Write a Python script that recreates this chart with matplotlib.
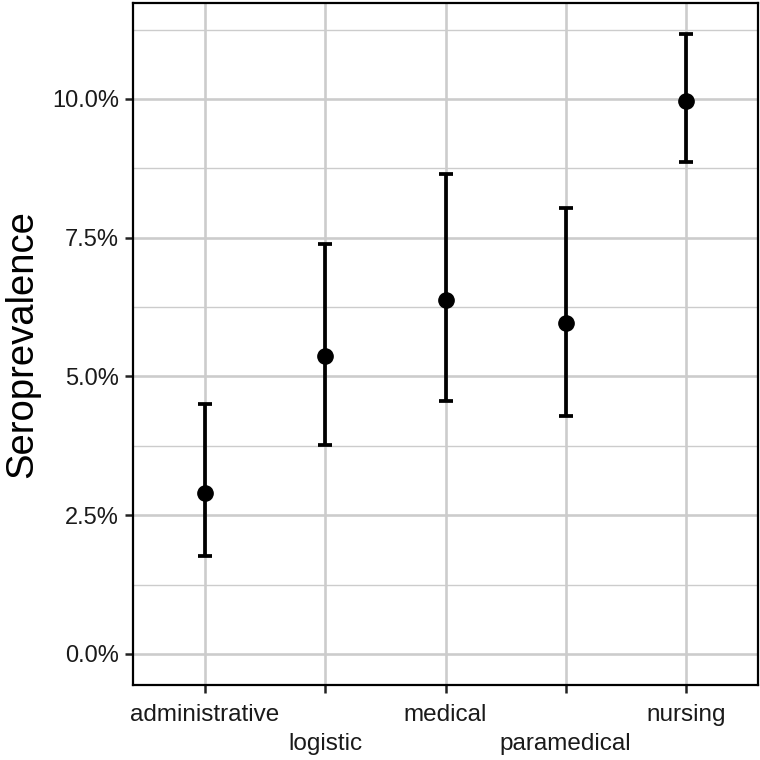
import matplotlib
matplotlib.use("Agg")
import matplotlib.pyplot as plt
from matplotlib.ticker import FixedLocator, FuncFormatter

plt.rcParams['font.family'] = ['Liberation Sans', 'DejaVu Sans']

categories = ["administrative", "logistic", "medical", "paramedical", "nursing"]
estimate = [2.90, 5.37, 6.38, 5.96, 9.97]
lower = [1.77, 3.77, 4.56, 4.29, 8.87]
upper = [4.50, 7.39, 8.65, 8.03, 11.17]
y_major = [0.0, 2.5, 5.0, 7.5, 10.0]
y_minor = [1.25, 3.75, 6.25, 8.75, 11.25]

fig = plt.figure(figsize=(7.6, 7.6), dpi=100)
ax = fig.add_axes([0.175, 0.0987, 0.8224, 0.8973])

x = list(range(1, len(categories) + 1))
err_lo = [e - l for e, l in zip(estimate, lower)]
err_hi = [u - e for e, u in zip(estimate, upper)]
ax.errorbar(x, estimate, yerr=[err_lo, err_hi], fmt='o', color='black',
            markersize=11, elinewidth=2.7, capsize=5, capthick=2.7, zorder=3)

lo_all = min(0.0, min(lower))
hi_all = max(upper)
pad = 0.05 * (hi_all - lo_all)
ax.set_ylim(lo_all - pad, hi_all + pad)
ax.set_xlim(0.4, 5.6)

ax.yaxis.set_major_locator(FixedLocator(y_major))
ax.yaxis.set_minor_locator(FixedLocator(y_minor))
ax.yaxis.set_major_formatter(FuncFormatter(lambda v, p: f"{v:.1f}%"))
ax.set_xticks(x)
ax.set_xticklabels(["" for _ in categories])
for i, (xi, lab) in enumerate(zip(x, categories)):
    off = -26 if i % 2 == 0 else -47
    ax.annotate(lab, xy=(xi, 0), xycoords=('data', 'axes fraction'),
                xytext=(0, off), textcoords='offset points',
                ha='center', va='baseline', fontsize=17.5, color='#1a1a1a')

ax.grid(True, which='major', color='#cccccc', linewidth=1.9)
ax.grid(True, which='minor', axis='y', color='#cccccc', linewidth=1.0)
ax.set_axisbelow(True)

ax.tick_params(axis='both', which='major', length=6, width=1.8, color='#222222',
               labelsize=17, labelcolor='#1a1a1a')
ax.tick_params(axis='both', which='minor', length=0)
ax.tick_params(axis='y', pad=4)
for s in ax.spines.values():
    s.set_linewidth(1.6)
    s.set_color('black')

fig.text(22 / 760, 1 - 344 / 760, "Seroprevalence", rotation=90,
         ha='center', va='center', fontsize=27.5, color='black')

fig.savefig("out.png", dpi=100)
